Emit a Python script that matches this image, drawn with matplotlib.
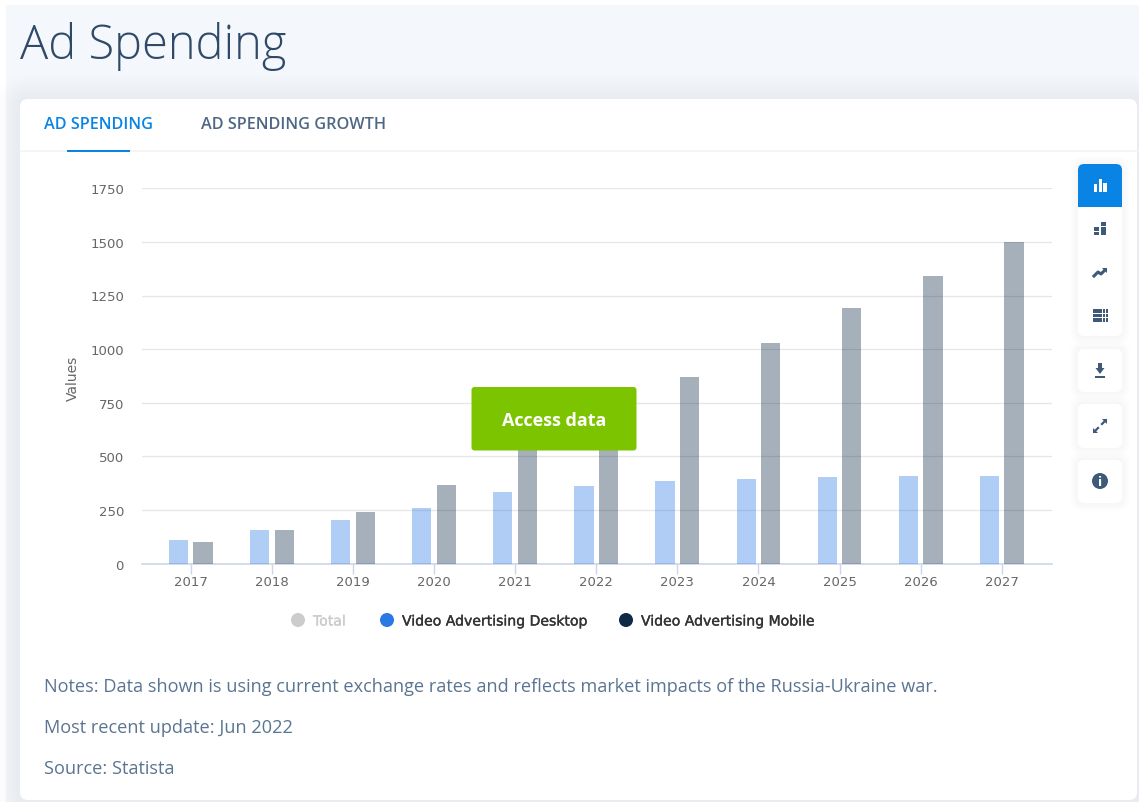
# -*- coding: utf-8 -*-
import matplotlib
matplotlib.use('Agg')
import matplotlib.pyplot as plt
import matplotlib.patheffects as pe
from matplotlib.patches import FancyBboxPatch, Rectangle, Circle, Polygon

W, H = 1139, 803

years = [2017, 2018, 2019, 2020, 2021, 2022, 2023, 2024, 2025, 2026, 2027]
desktop = [110, 158, 204, 259, 333, 362, 384, 395, 402, 406, 406]
mobile = [99, 158, 240, 366, 560, 710, 872, 1028, 1192, 1341, 1500]
yticks = [0, 250, 500, 750, 1000, 1250, 1500, 1750]
legend_names = ['Total', 'Video Advertising Desktop', 'Video Advertising Mobile']
notes = ['Notes: Data shown is using current exchange rates and reflects market impacts of the Russia-Ukraine war.',
         'Most recent update: Jun 2022',
         'Source: Statista']

DARK = '#3e5a78'
BLUE = '#0a84e4'
TEXT = '#666666'
DESKTOP_COLOR = '#2a78e4'
MOBILE_COLOR = '#0f2a47'


def rounded(ax, x0, y0, x1, y1, r=5, **kw):
    p = FancyBboxPatch((x0 + r, y0 + r), x1 - x0 - 2 * r, y1 - y0 - 2 * r,
                       boxstyle='round,pad=%g,rounding_size=%g' % (r, r), **kw)
    ax.add_patch(p)
    return p


def shadowed(ax, x0, y0, x1, y1, r=5, spread=8, z=1, strength=0.012):
    # soft shadow made of stacked translucent boxes
    for s in range(spread, 0, -2):
        rounded(ax, x0 - s, y0 - s, x1 + s, y1 + s, r=r + s, fc='#5a7191',
                ec='none', alpha=strength, zorder=z)
    rounded(ax, x0, y0, x1, y1, r=r, fc='white', ec='none', zorder=z + 0.1)


def drawToolIcons(ax):
    shadowed(ax, 1078, 165, 1122, 337, r=6, z=2)
    # active button, rounded on top and square at the bottom
    rounded(ax, 1078, 165, 1122, 195, r=6, fc=BLUE, ec='none', zorder=3)
    ax.add_patch(Rectangle((1078, 180), 44, 27.7, fc=BLUE, ec='none', zorder=3))
    for x, top in [(1095.5, 185), (1100.3, 179.5), (1105.1, 183.5)]:
        ax.add_patch(Rectangle((x - 1.7, top), 3.4, 193.3 - top, fc='white', ec='none', zorder=4))

    # treemap
    for x, y, w, h in [(1094.3, 228.3, 5, 3.4), (1094.3, 232.7, 5, 3.3), (1101, 223.3, 5, 4), (1101, 228.3, 5, 7.7)]:
        ax.add_patch(Rectangle((x, y), w, h, fc=DARK, ec='none', zorder=4))
    # trend line
    ax.plot([1094, 1098, 1101, 1105], [277, 273, 275, 271], color=DARK, lw=2.2, zorder=4)
    ax.add_patch(Polygon([[1102, 268.5], [1107, 268.5], [1107, 273.5]], fc=DARK, ec='none', zorder=4))
    # table
    for x, w in [(1092.7, 9), (1103, 2.1), (1105.6, 2.1)]:
        for y in (310.3, 314.8, 319.3):
            ax.add_patch(Rectangle((x, y), w, 3.3, fc=DARK, ec='none', zorder=4))

    shadowed(ax, 1078, 350, 1122, 393, r=6, z=2)
    ax.add_patch(Rectangle((1098.3, 364), 3.4, 6, fc=DARK, ec='none', zorder=4))
    ax.add_patch(Polygon([[1095.5, 369], [1104.5, 369], [1100, 375]], fc=DARK, ec='none', zorder=4))
    ax.add_patch(Rectangle((1095, 377), 10, 2, fc=DARK, ec='none', zorder=4))

    shadowed(ax, 1078, 405, 1122, 449, r=6, z=2)
    ax.add_patch(Polygon([[1102, 420], [1107, 420], [1107, 425]], fc=DARK, ec='none', zorder=4))
    ax.add_patch(Polygon([[1093, 434], [1098, 434], [1093, 429]], fc=DARK, ec='none', zorder=4))
    ax.plot([1102, 1104], [425, 423], color=DARK, lw=1.6, zorder=4)
    ax.plot([1096, 1098], [431, 429], color=DARK, lw=1.6, zorder=4)

    shadowed(ax, 1078, 461, 1122, 504, r=6, z=2)
    ax.add_patch(Circle((1100, 482), 8, fc=DARK, ec='none', zorder=4))
    ax.text(1100, 482.5, 'i', color='white', fontsize=9, fontweight='bold', ha='center',
            va='center', family='DejaVu Sans', zorder=5)


def drawChrome(ax):
    # page background and the chart card
    ax.add_patch(Rectangle((6, 6), W - 6, 797, fc='#f4f7fb', ec='none', zorder=0))
    shadowed(ax, 20, 100, 1137, 801, r=8, spread=24, z=0.5, strength=0.0035)
    ax.plot([20, 1137], [151.5, 151.5], color='#f1f4f8', lw=1.2, zorder=1)
    ax.add_patch(Rectangle((67, 150.5), 63, 2.2, fc=BLUE, ec='none', zorder=2))

    ax.text(20, 59, 'Ad Spending', color='#2f4a68', fontsize=33.8, fontweight='light',
            family='Open Sans', ha='left', va='baseline', zorder=2)
    ax.text(44, 125, 'AD SPENDING', color=BLUE, fontsize=11.7, family='Open Sans',
            fontweight='semibold', ha='left', va='center', zorder=2)
    ax.text(201, 125, 'AD SPENDING GROWTH', color='#4d6785', fontsize=11.7, family='Open Sans',
            fontweight='semibold', ha='left', va='center', zorder=2)

    for txt, y in zip(notes, [687, 728, 769]):
        ax.text(44, y, txt, color='#5a7491', fontsize=13.04, family='Open Sans',
                ha='left', va='center', zorder=2)

    drawToolIcons(ax)


def drawLegend(ax):
    colors = ['#cccccc', DESKTOP_COLOR, MOBILE_COLOR]
    textColors = ['#cccccc', '#333333', '#333333']
    for name, cx, c, tc in zip(legend_names, [298, 387, 626], colors, textColors):
        ax.add_patch(Circle((cx, 621), 7, fc=c, ec='none', zorder=6))
        t = ax.text(cx + 15, 622.5, name, color=tc, fontsize=10.1, family='DejaVu Sans',
                    ha='left', va='center', zorder=6)
        # the labels are a little heavier than the regular weight
        t.set_path_effects([pe.withStroke(linewidth=0.25, foreground=tc)])


def drawCTA(ax):
    rounded(ax, 471.5, 388, 636.5, 451.5, r=3, fc='#7cc400', ec='none', zorder=8)
    ax.text(554, 421.5, 'Access data', color='white', fontsize=13, fontweight='bold',
            family='Open Sans', ha='center', va='center', zorder=9)


def plotBars(fig):
    # axes box in pixels: x 142-1052, y 189-564.5
    ax = fig.add_axes([142 / W, 1 - 564.5 / H, 910 / W, 375.2 / H], zorder=2)
    ax.patch.set_alpha(0)
    step = 81.1
    barWidth = 19.2 / step
    offset = 12.3 / step
    ax.bar([y - offset for y in years], desktop, barWidth, color=DESKTOP_COLOR, alpha=0.37, zorder=3)
    ax.bar([y + offset for y in years], mobile, barWidth, color=MOBILE_COLOR, alpha=0.37, zorder=3)
    ax.set_xlim(2017 - 48.7 / step, 2017 + (910 - 48.7) / step)
    ax.set_ylim(0, 1750)
    ax.set_yticks(yticks)
    ax.set_xticks(years)
    ax.set_xticklabels([str(y) for y in years])
    ax.grid(axis='y', color='#e6e6e6', lw=0.9, zorder=0)
    ax.set_axisbelow(True)
    for s in ['top', 'right', 'left']:
        ax.spines[s].set_visible(False)
    ax.spines['bottom'].set_color('#ccd6eb')
    ax.spines['bottom'].set_linewidth(1.2)
    ax.tick_params(axis='y', length=0, pad=13, labelsize=9.5, labelcolor=TEXT)
    ax.tick_params(axis='x', length=7, width=1, color='#ccd6eb', pad=1.5, labelsize=9.5, labelcolor=TEXT)
    ax.set_ylabel('Values', fontsize=10, color=TEXT, labelpad=7, y=0.497)
    return ax


def main():
    fig = plt.figure(figsize=(W / 100, H / 100), dpi=100, facecolor='white')
    page = fig.add_axes([0, 0, 1, 1], zorder=1)
    page.set_xlim(0, W)
    page.set_ylim(H, 0)
    page.axis('off')
    drawChrome(page)

    plotBars(fig)

    # legend and button sit over the bars
    top = fig.add_axes([0, 0, 1, 1], zorder=3)
    top.set_xlim(0, W)
    top.set_ylim(H, 0)
    top.axis('off')
    drawLegend(top)
    drawCTA(top)

    fig.savefig('out.png', dpi=100, facecolor=fig.get_facecolor())


if __name__ == '__main__':
    main()
